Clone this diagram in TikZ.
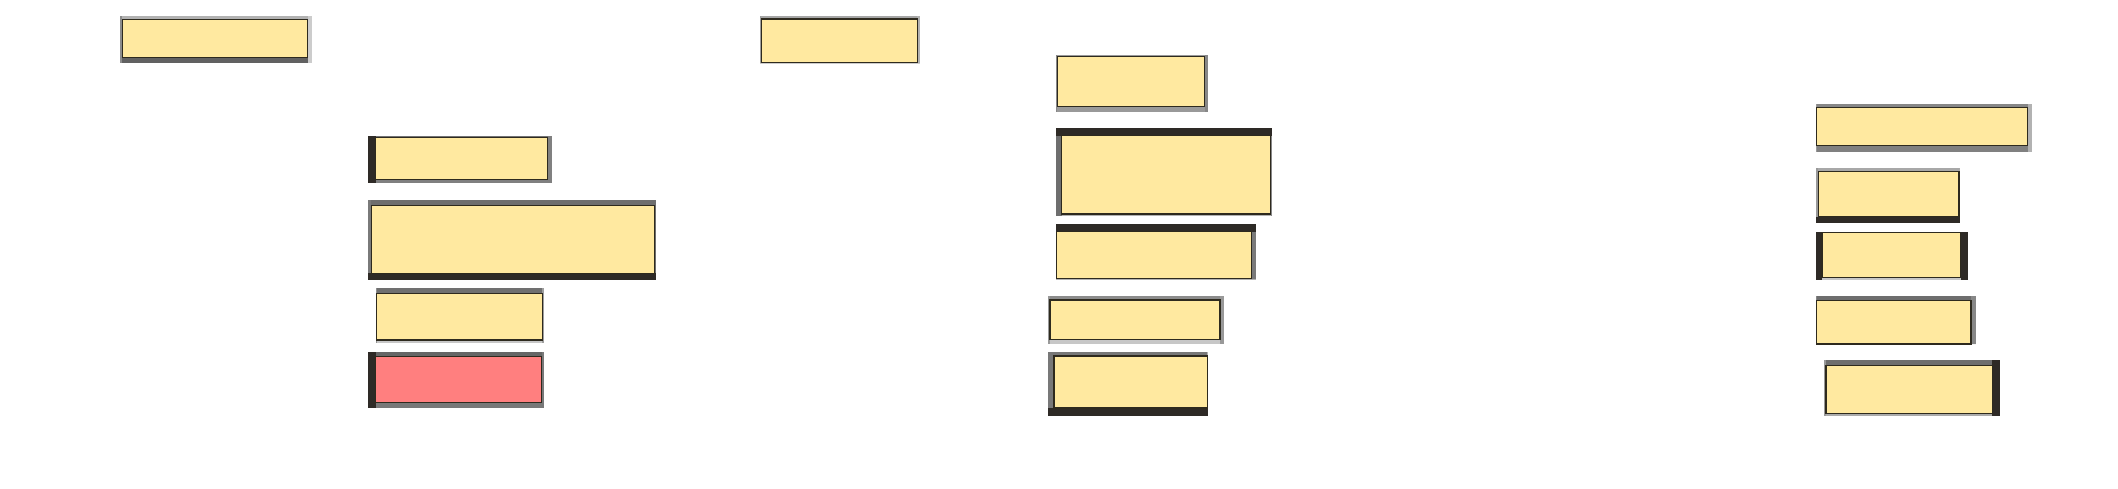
\documentclass[tikz,border=0pt]{standalone}
\usetikzlibrary{fit}
\definecolor{yel}{HTML}{FFE9A0}
\definecolor{redf}{HTML}{FF7F7F}
\definecolor{dk}{HTML}{2E2A26}
\definecolor{edge}{HTML}{2E2A1E}
\tikzset{
  lc/.store in=\lc, tc/.store in=\tc, rc/.store in=\rc, bc/.store in=\bc,
  fc/.store in=\fc, nm/.store in=\nm,
  panelbox/.style={draw=edge, line width=1.3pt, inner sep=0pt, rectangle}
}
\def\dkname{dk}
% #1 keys, #2..#5 outer x1,y1,x2,y2, #6..#9 inner x1,y1,x2,y2
\newcommand\panel[9]{%
  \begingroup
  \tikzset{lc=white,tc=white,rc=white,bc=white,fc=yel,#1}%
  \fill[\tc] (#2,#3) rectangle (#4,#7);
  \fill[\bc] (#2,#9) rectangle (#4,#5);
  \fill[\lc] (#2,#3) rectangle (#6,#5);
  \fill[\rc] (#8,#3) rectangle (#4,#5);
  \ifx\tc\dkname \fill[\tc] (#2,#3) rectangle (#4,#7);\fi
  \ifx\bc\dkname \fill[\bc] (#2,#9) rectangle (#4,#5);\fi
  \node[panelbox, fill=\fc, fit={(#6,#7) (#8,#9)}] (\nm) {};
  \endgroup
}
\begin{document}
\begin{tikzpicture}[x=1pt,y=-1pt]
\fill[white] (0,0) rectangle (2118,488);
\useasboundingbox (0,0) rectangle (2118,488);
% top-left
\panel{nm=p1,tc=black!30,lc=black!45,rc=black!20,bc=black!62}{120}{16}{311.7}{63.3}{122.3}{19.3}{307.7}{57.3}
\panel{nm=p2,tc=black!35,lc=black!38,rc=black!30,bc=black!20}{760}{16}{920}{63.3}{761.3}{19}{917.3}{62.7}
% column 2
\panel{nm=a,lc=dk,tc=black!55,rc=black!50,bc=black!50}{367.7}{136}{551.7}{183.3}{375.7}{137.3}{547.7}{179.3}
\panel{nm=b,tc=black!57,lc=black!52,rc=black!57,bc=dk}{367.7}{200}{656}{280}{371.3}{205.7}{654.7}{273.3}
\panel{nm=c,tc=black!56,lc=black!44,rc=black!38,bc=black!22}{376}{287.7}{544}{343.3}{376.7}{293.3}{542.3}{340}
\panel{nm=d,fc=redf,lc=dk,tc=black!60,rc=black!53,bc=black!53}{367.7}{351.7}{544}{407.7}{375.7}{356.7}{541.7}{402.7}
% column 3
\panel{nm=e,tc=black!40,lc=black!47,rc=black!47,bc=black!40}{1056}{55}{1208}{111.7}{1057.3}{56.7}{1204.7}{106.7}
\panel{nm=f,tc=dk,lc=black!57,rc=black!47,bc=black!30}{1056}{128}{1272}{215.7}{1061.7}{135.7}{1270.7}{214}
\panel{nm=g,tc=dk,lc=black!40,rc=black!52,bc=black!30}{1056}{224}{1256}{279.3}{1056.7}{231.7}{1251.3}{278.7}
\panel{nm=h,tc=black!45,lc=black!40,rc=black!40,bc=black!22}{1048}{296}{1224}{344}{1050}{300}{1220}{339.3}
\panel{nm=i,lc=black!53,tc=black!53,rc=black!30,bc=dk}{1048}{352}{1208}{416}{1054}{356}{1207.3}{408}
% column 4
\panel{nm=j,tc=black!47,lc=black!40,rc=black!30,bc=black!50}{1816}{104}{2031.7}{151.7}{1816.7}{107.3}{2027.7}{145.7}
\panel{nm=k,tc=black!34,lc=black!40,rc=black!33,bc=dk}{1816}{168}{1960}{223.3}{1818.3}{171.7}{1959}{216.7}
\panel{nm=l,lc=dk,rc=dk,tc=black!30,bc=black!22}{1816}{232}{1967.7}{280}{1822}{232.7}{1960.7}{277.3}
\panel{nm=m,tc=black!57,lc=black!47,rc=black!47,bc=black!30}{1816}{296}{1976}{344}{1816.7}{300.7}{1971}{344}
\panel{nm=n,tc=black!57,lc=black!40,rc=dk,bc=black!33}{1824}{360}{2000}{416}{1826}{365.3}{1992.3}{413.3}
\end{tikzpicture}
\end{document}
